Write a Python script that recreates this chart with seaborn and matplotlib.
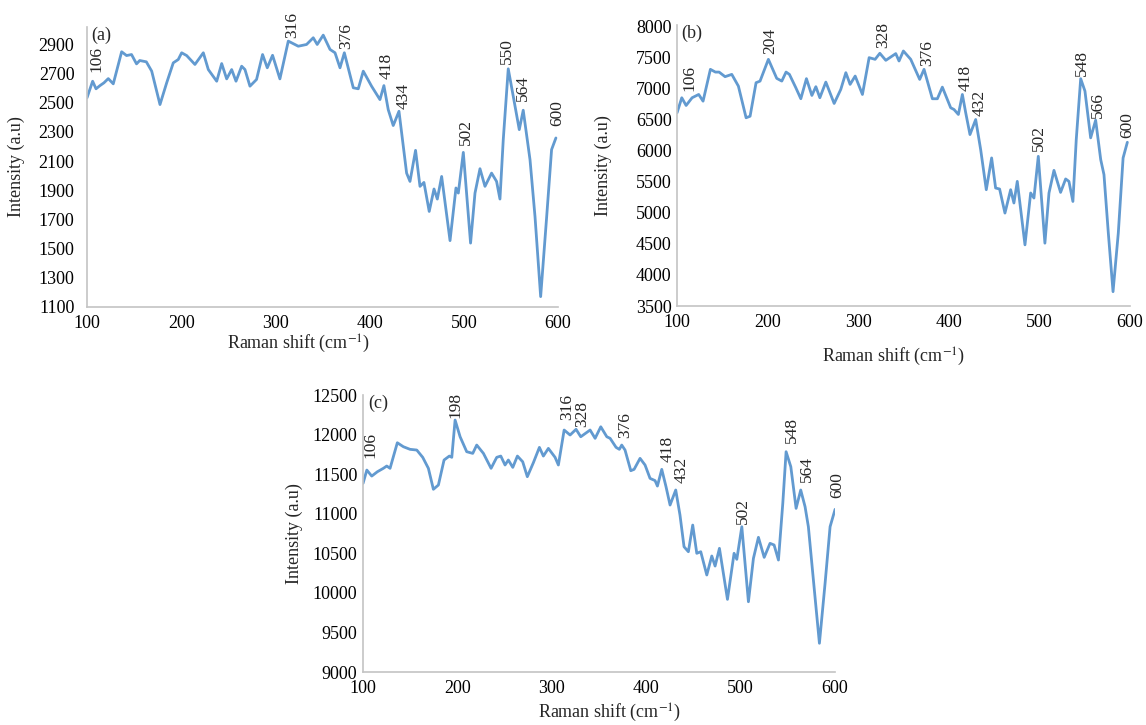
import matplotlib
matplotlib.use('Agg')
import matplotlib.pyplot as plt
import seaborn as sns
import numpy as np
import pandas as pd

sns.set_theme(style='white')
plt.rcParams['font.family'] = ['Liberation Serif', 'DejaVu Serif']
plt.rcParams['mathtext.fontset'] = 'stix'

# ---- panel (a)
shift_a = [100, 106, 109.6, 113.8, 118, 122.6, 127.9, 136.8, 142, 147.3, 152.6, 156, 163, 168.7,
           177.5, 184.6, 191.6, 196.9, 200.5, 205.8, 214.6, 223.5, 228.8, 237.7, 243, 248.3,
           253.6, 258.2, 264.2, 267.7, 273, 280, 286.4, 291.4, 297, 304.8, 313.7, 324.3, 333.1,
           340.2, 344.4, 350.8, 358, 363.3, 368.6, 373.2, 382.7, 388, 393.3, 402.1, 411, 415.2,
           419.8, 425.1, 431.2, 439.3, 442.9, 448.8, 453.5, 457.7, 463.3, 468.4, 471.9, 476.5,
           485.4, 491.7, 494.2, 499.5, 507.2, 511.9, 517.2, 522.5, 529.5, 534.8, 538.4, 541.9,
           547.2, 552.5, 558.9, 563.1, 570.3, 575.6, 581.6, 588, 593.2, 597.8]
int_a = [2534, 2648, 2596, 2618, 2637, 2666, 2630, 2850, 2824, 2831, 2767, 2790, 2781, 2717,
         2488, 2637, 2774, 2797, 2843, 2824, 2763, 2843, 2728, 2648, 2769, 2664,
         2728, 2648, 2751, 2728, 2614, 2660, 2831, 2740, 2826, 2664, 2923, 2888, 2900,
         2946, 2900, 2964, 2866, 2843, 2740, 2843, 2603, 2596, 2717, 2614, 2522, 2618,
         2453, 2344, 2442, 2018, 1961, 2174, 1927, 1954, 1755, 1909, 1840, 1995,
         1555, 1916, 1881, 2160, 1538, 1881, 2048, 1927, 2018, 1961, 1840, 2247,
         2733, 2545, 2316, 2449, 2110, 1720, 1171, 1720, 2179, 2259]
peaks_a = ['106', '316', '376', '418', '434', '502', '550', '564', '600']
peak_x_a = [110, 317.6, 374.7, 418.1, 435.8, 502.1, 545.5, 563.2, 599.5]
peak_y_a = [2714, 2941, 2866, 2660, 2458, 2213, 2763, 2510, 2343]

# ---- panel (b)
shift_b = [100, 105.2, 110, 116.6, 123.9, 128.7, 136.8, 142.3, 146.4, 153, 160.4, 167.7, 176.2,
           180.6, 187.2, 191.6, 200.8, 210, 215.6, 220.3, 224, 231.1, 236.6, 242.8, 248.8,
           253.2, 257.6, 264.2, 273.4, 280.7, 286.3, 291, 296.6, 304.6, 312, 318.6, 323.8,
           330.4, 341.4, 345, 349.8, 357.9, 367.8, 372.6, 381.8, 387.3, 392.8, 402, 405.7,
           410.5, 414.9, 418.6, 423.3, 429.6, 435.1, 441.3, 447.2, 451.6, 456, 461.9, 468.2,
           471.8, 475.5, 484, 490.3, 493.9, 498.7, 506, 510.5, 516, 523.3, 528.9, 532.5,
           536.9, 540.6, 545.5, 550.2, 556.5, 562, 567.6, 571.2, 576, 581.2, 587, 592.3, 597]
int_b = [6608, 6850, 6726, 6850, 6903, 6795, 7307, 7263, 7263, 7189, 7226, 7037, 6528,
         6553, 7092, 7118, 7468, 7162, 7118, 7263, 7226, 7011, 6834, 7157, 6887,
         7028, 6850, 7102, 6758, 6984, 7253, 7065, 7199, 6903, 7495, 7468, 7565,
         7452, 7560, 7441, 7602, 7468, 7145, 7307, 6834, 6834, 7021, 6689, 6661,
         6581, 6903, 6608, 6258, 6500, 6016, 5371, 5882, 5398, 5382, 4995, 5371,
         5157, 5505, 4484, 5318, 5237, 5908, 4511, 5318, 5682, 5328, 5544, 5505,
         5182, 6178, 7157, 6957, 6205, 6489, 5855, 5613, 4673, 3731, 4673, 5882, 6134]
peaks_b = ['106', '204', '328', '376', '418', '432', '502', '548', '566', '600']
peak_x_b = [113.2, 202.7, 327.7, 375.6, 419, 434.5, 499.6, 546.7, 564.1, 597.3]
peak_y_b = [6957, 7549, 7657, 7360, 6957, 6553, 5989, 7199, 6528, 6205]

# ---- panel (c)
shift_c = [100, 104, 109.2, 115.2, 121.5, 125.1, 128.6, 136.3, 142.7, 149.8, 156.9, 163.2,
           169.2, 174.5, 179.8, 185.8, 191.4, 194, 197.5, 202.8, 209.8, 216.2, 220.4, 227.5,
           235.6, 241.6, 245.9, 250.4, 253.9, 258.6, 263.5, 269.1, 274, 280.4, 286.8, 291,
           296.3, 303.4, 306.9, 313, 319.3, 325.6, 330.6, 340.5, 345.8, 351.8, 358.2, 361.7,
           368, 371.5, 374, 377.5, 383.6, 387.1, 393.4, 398.7, 404, 409.3, 411.8, 416.4,
           420.9, 425.2, 431.2, 435.7, 440, 444.6, 449.2, 453.5, 457.7, 464.1, 469.4, 472.9,
           477.5, 486, 493, 495.9, 501.2, 508.2, 513.5, 518.8, 524.9, 531.1, 535.4, 540,
           544.6, 548.1, 553.1, 558.7, 563.6, 568.2, 571.7, 577.7, 583.4, 589.4, 594.7, 600]
int_c = [11384, 11552, 11476, 11531, 11574, 11603, 11574, 11897, 11847, 11814, 11805, 11713,
         11574, 11309, 11363, 11679, 11729, 11713, 12184, 11973, 11784, 11763, 11868, 11763,
         11574, 11713, 11729, 11616, 11679, 11586, 11729, 11657, 11468, 11645, 11839, 11729,
         11826, 11713, 11616, 12058, 11995, 12067, 11973, 12058, 11953, 12099, 11973, 11953,
         11839, 11814, 11868, 11805, 11544, 11561, 11700, 11616, 11447, 11419, 11350, 11561,
         11342, 11110, 11300, 10984, 10583, 10520, 10857, 10500, 10520, 10226, 10466, 10339,
         10563, 9918, 10500, 10424, 10836, 9888, 10436, 10702, 10449, 10626, 10605, 10415,
         11131, 11784, 11594, 11068, 11300, 11089, 10836, 10078, 9363, 10121, 10836, 11056]
peaks_c = ['106', '198', '316', '328', '376', '418', '432', '502', '548', '564', '600']
peak_x_c = [108.3, 198.3, 316.1, 331.7, 377.5, 422.6, 437.6, 502.8, 554.1, 570, 601.8]
peak_y_c = [11700, 12205, 12184, 12099, 11953, 11657, 11384, 10870, 11897, 11405, 11195]

line_color = '#629ad0'
spine_color = '#c4c4c4'

fig = plt.figure(figsize=(11.46, 7.25), dpi=100)

panels = [
    # rect, x, y, labels, lx, ly, ylim, yticks, tag, ytick pad, ylabel x, xlabel coords
    ([0.0759, 0.5766, 0.411, 0.3862], shift_a, int_a, peaks_a, peak_x_a, peak_y_a,
     (1100, 3020), np.arange(1100, 3000, 200), '(a)', 9, -0.132, (0.45, -0.093)),
    ([0.5908, 0.5779, 0.3953, 0.3876], shift_b, int_b, peaks_b, peak_x_b, peak_y_b,
     (3500, 8020), np.arange(3500, 8001, 500), '(b)', 4, -0.1435, (0.477, -0.142)),
    ([0.3168, 0.0731, 0.4119, 0.382], shift_c, int_c, peaks_c, peak_x_c, peak_y_c,
     (9000, 12500), np.arange(9000, 12501, 500), '(c)', 4, -0.127, (0.522, -0.108)),
]

for rect, xs, ys, labs, lx, ly, ylim, yticks, tag, ypad, ylx, xlc in panels:
    ax = fig.add_axes(rect)
    df = pd.DataFrame({'shift': xs, 'intensity': ys})
    sns.lineplot(data=df, x='shift', y='intensity', ax=ax, color=line_color,
                 linewidth=2.0, estimator=None, sort=False)
    ax.set_xlim(100, 600)
    ax.set_ylim(*ylim)
    ax.set_xticks([100, 200, 300, 400, 500, 600])
    ax.set_yticks(yticks)
    ax.tick_params(axis='both', length=0, labelsize=13, colors='black')
    ax.tick_params(axis='x', pad=6)
    ax.tick_params(axis='y', pad=ypad)
    for s in ['top', 'right']:
        ax.spines[s].set_visible(False)
    for s in ['left', 'bottom']:
        ax.spines[s].set_color(spine_color)
        ax.spines[s].set_linewidth(1.2)
    ax.set_ylabel('Intensity (a.u)', fontsize=13)
    ax.yaxis.set_label_coords(ylx, 0.5)
    ax.set_xlabel(r'Raman shift (cm$^{-1}$)', fontsize=13)
    ax.xaxis.set_label_coords(*xlc)
    for t, px, py in zip(labs, lx, ly):
        ax.text(px, py, t, rotation=90, ha='center', va='bottom', fontsize=12.5,
                clip_on=False)
    ax.text(0.01, 1.0, tag, transform=ax.transAxes, ha='left', va='top', fontsize=13)

fig.savefig('out.png', dpi=100)
